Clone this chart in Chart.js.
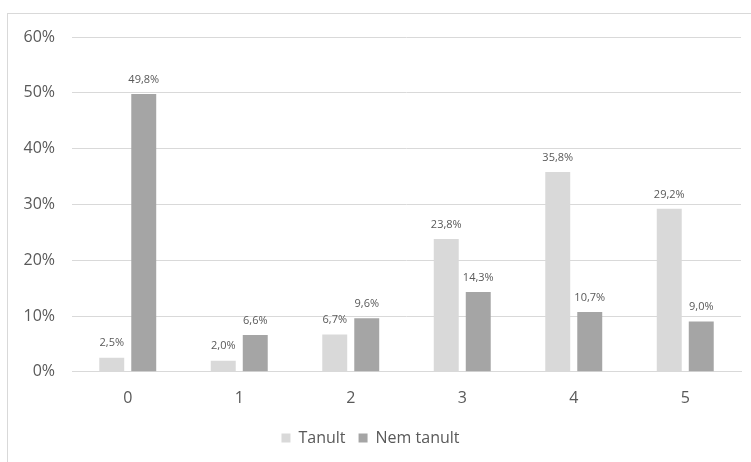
<!DOCTYPE html>
<html>
<head>
<meta charset="utf-8">
<script src="https://cdn.jsdelivr.net/npm/chart.js@4"></script>
<style>
  html, body { margin: 0; padding: 0; background: #fff; }
  #wrap { width: 751px; height: 462px; position: relative; }
</style>
</head>
<body>
<div id="wrap"><canvas id="chart" width="751" height="462"></canvas></div>
<script>
const categories = ['0', '1', '2', '3', '4', '5'];
const tanult = [2.5, 2.0, 6.7, 23.8, 35.8, 29.2];
const nemTanult = [49.8, 6.6, 9.6, 14.3, 10.7, 9.0];
const yTicks = [0, 10, 20, 30, 40, 50, 60];

const fmt = v => v.toFixed(1).replace('.', ',') + '%';

// chart frame: light border at top and left edge
const framePlugin = {
  id: 'frame',
  beforeDraw(chart) {
    const ctx = chart.ctx;
    ctx.save();
    ctx.strokeStyle = '#d9d9d9';
    ctx.lineWidth = 1;
    ctx.strokeRect(7.5, 13.5, 900, 600);
    ctx.restore();
  }
};

// value labels above every bar
const valueLabels = {
  id: 'valueLabels',
  afterDatasetsDraw(chart) {
    const ctx = chart.ctx;
    ctx.save();
    ctx.font = '11px "Open Sans", sans-serif';
    ctx.fillStyle = '#595959';
    ctx.textAlign = 'center';
    ctx.textBaseline = 'bottom';
    chart.data.datasets.forEach((ds, i) => {
      chart.getDatasetMeta(i).data.forEach((bar, j) => {
        ctx.fillText(fmt(ds.data[j]), bar.x, bar.y - 9);
      });
    });
    ctx.restore();
  }
};

new Chart(document.getElementById('chart'), {
  type: 'bar',
  data: {
    labels: categories,
    datasets: [
      { label: 'Tanult', data: tanult, backgroundColor: '#d9d9d9' },
      { label: 'Nem tanult', data: nemTanult, backgroundColor: '#a5a5a5' }
    ]
  },
  options: {
    responsive: false,
    animation: false,
    devicePixelRatio: 1,
    categoryPercentage: 0.574,
    barPercentage: 0.78,
    layout: { padding: { left: 0, right: 10, top: 37, bottom: 6 } },
    plugins: {
      legend: {
        position: 'bottom',
        labels: {
          boxWidth: 9,
          boxHeight: 9,
          padding: 13,
          color: '#595959',
          font: { family: '"Open Sans", sans-serif', size: 16 }
        }
      },
      tooltip: { enabled: false }
    },
    scales: {
      x: {
        grid: { display: false },
        border: { color: '#d9d9d9' },
        ticks: {
          color: '#595959',
          padding: 9,
          font: { family: '"Open Sans", sans-serif', size: 16 }
        }
      },
      y: {
        min: 0,
        max: 60,
        afterFit(scale) { scale.width = 72; },
        afterBuildTicks(scale) { scale.ticks = yTicks.map(v => ({ value: v })); },
        grid: { color: '#d9d9d9', drawTicks: false },
        border: { display: false },
        ticks: {
          color: '#595959',
          padding: 17,
          font: { family: '"Open Sans", sans-serif', size: 16 },
          callback: v => v + '%'
        }
      }
    }
  },
  plugins: [framePlugin, valueLabels]
});
</script>
</body>
</html>
